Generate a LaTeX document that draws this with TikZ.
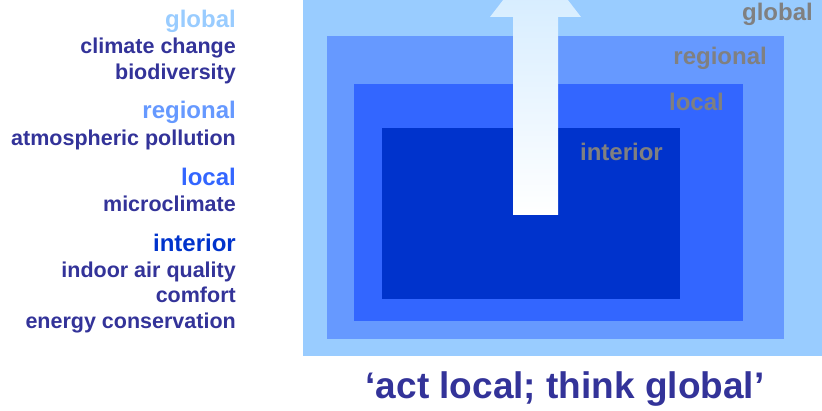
\documentclass[tikz,border=0pt]{standalone}
\usepackage{fontspec}
\setmainfont{Liberation Sans}
\definecolor{cglobal}{HTML}{99CCFF}
\definecolor{cregional}{HTML}{6699FF}
\definecolor{clocal}{HTML}{3366FF}
\definecolor{cinterior}{HTML}{0033CC}
\definecolor{cnavy}{HTML}{333399}
\definecolor{cgray}{HTML}{808080}
\definecolor{carrowtop}{HTML}{D0EAFF}
\tikzset{
  head/.style={anchor=base east, inner sep=0pt, font=\fontsize{24}{28}\selectfont\bfseries},
  item/.style={anchor=base east, inner sep=0pt, text=cnavy, font=\fontsize{21.5}{25}\selectfont\bfseries},
  zonelabel/.style={anchor=base east, inner sep=0pt, text=cgray, font=\fontsize{24}{28}\selectfont\bfseries},
  zone/.style={draw=none}
}
\begin{document}
\begin{tikzpicture}[x=1pt,y=-1pt]
\useasboundingbox (0,0) rectangle (822,411);
\begin{scope}
\clip (0,0) rectangle (822,411);
% nested zones
\fill[cglobal] (303,0) rectangle (822,356);
\fill[cregional] (327,36) rectangle (784,339);
\fill[clocal] (354,84) rectangle (743,321);
\fill[cinterior] (382,128) rectangle (680,299);
% arrow
\shade[top color=carrowtop, bottom color=white]
  (513,215) -- (558,215) -- (558,17) -- (581,17) -- (535.5,-42) -- (490,17) -- (513,17) -- cycle;
\end{scope}
% zone labels
\node[zonelabel] (zg) at (813,21) {global};
\node[zonelabel] (zr) at (767,65) {regional};
\node[zonelabel] (zl) at (724,111) {local};
\node[zonelabel] (zi) at (663,161) {interior};
% left list
\node[head, text=cglobal] (hg) at (236,28) {global};
\node[item] (i1) at (236,54) {climate change};
\node[item] (i2) at (236,80) {biodiversity};
\node[head, text=cregional] (hr) at (236,119) {regional};
\node[item] (i3) at (236,146) {atmospheric pollution};
\node[head, text=clocal] (hl) at (236,186) {local};
\node[item] (i4) at (236,212) {microclimate};
\node[head, text=cinterior] (hi) at (236,252) {interior};
\node[item] (i5) at (236,278) {indoor air quality};
\node[item] (i6) at (236,303) {comfort};
\node[item] (i7) at (236,329) {energy conservation};
% title
\node[anchor=base, inner sep=0pt, text=cnavy, font=\fontsize{37}{42}\selectfont\bfseries] (title) at (565,399) {‘act local; think global’};
\end{tikzpicture}
\end{document}
